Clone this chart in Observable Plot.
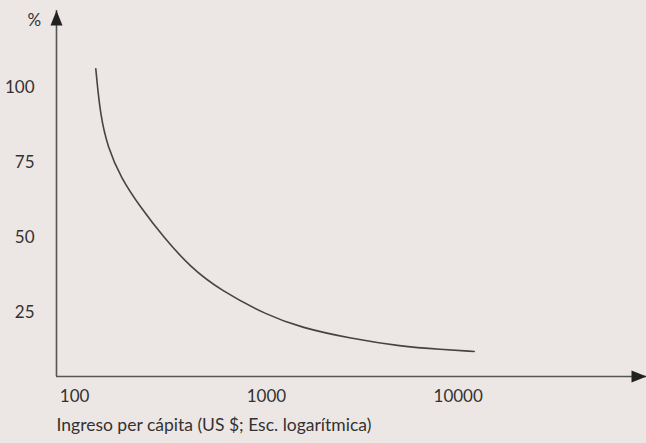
<!DOCTYPE html>
<html>
<head>
<meta charset="utf-8">
<script src="https://cdn.jsdelivr.net/npm/d3@7"></script>
<script src="https://cdn.jsdelivr.net/npm/@observablehq/plot@0.6"></script>
<style>
  html, body { margin: 0; padding: 0; background: #ece7e4; }
  #chart svg { display: block; }
</style>
</head>
<body>
<div id="chart"></div>
<script>
// Data (income per capita, log scale; %)
const income = [129, 136, 149, 174, 221, 292, 403, 579, 1018, 1514, 2762, 5038, 8151, 12120];
const percent = [106.3, 91, 80, 70, 60, 50, 40, 32.3, 24, 20, 16.3, 13.7, 12.7, 12];
const xTicks = [100, 1000, 10000];
const yTicks = [25, 50, 75, 100];
const yLabel = "%";
const xLabel = "Ingreso per cápita (US $; Esc. logarítmica)";

const xDomain = [80.5, 95900];
const yDomain = [3.67, 125.7];

const curve = income.map((x, i) => ({x, y: percent[i]}));

const arrowHead = {
  draw(ctx) {
    ctx.moveTo(0, 0);
    ctx.lineTo(6, 15);
    ctx.lineTo(-6, 15);
    ctx.closePath();
  }
};

const ink = "#333232";
const font = "Lato, 'Open Sans', sans-serif";

const chart = Plot.plot({
  width: 646,
  height: 443,
  marginLeft: 56,
  marginRight: 0,
  marginTop: 10,
  marginBottom: 67,
  style: { background: "#ece7e4", color: ink, fontFamily: font },
  x: { type: "log", domain: xDomain },
  y: { domain: yDomain },
  marks: [
    Plot.ruleX([xDomain[0]], { stroke: "#555", strokeWidth: 1.6 }),
    Plot.ruleY([yDomain[0]], { stroke: "#555", strokeWidth: 1.6 }),
    Plot.dot([{x: xDomain[0], y: yDomain[1]}], { x: "x", y: "y", symbol: arrowHead, fill: "#222", stroke: "none", r: 5 }),
    Plot.dot([{x: xDomain[1], y: yDomain[0]}], { x: "x", y: "y", symbol: arrowHead, fill: "#222", stroke: "none", r: 5, rotate: 90 }),
    Plot.axisX({ ticks: xTicks, tickFormat: d => String(d), tickSize: 0, tickPadding: 13, fontSize: 17, label: null }),
    Plot.axisY({ ticks: yTicks, tickSize: 0, tickPadding: 22, fontSize: 17, label: null }),
    Plot.text([yLabel], { frameAnchor: "top-left", dx: -29, dy: 3, fontSize: 17, fill: ink }),
    Plot.text([xLabel], { frameAnchor: "bottom-left", textAnchor: "start", dy: 54, fontSize: 17.5, fill: ink }),
    Plot.line(curve, { x: "x", y: "y", curve: "basis", stroke: "#444", strokeWidth: 1.6 })
  ]
});

document.getElementById("chart").append(chart);
</script>
</body>
</html>
